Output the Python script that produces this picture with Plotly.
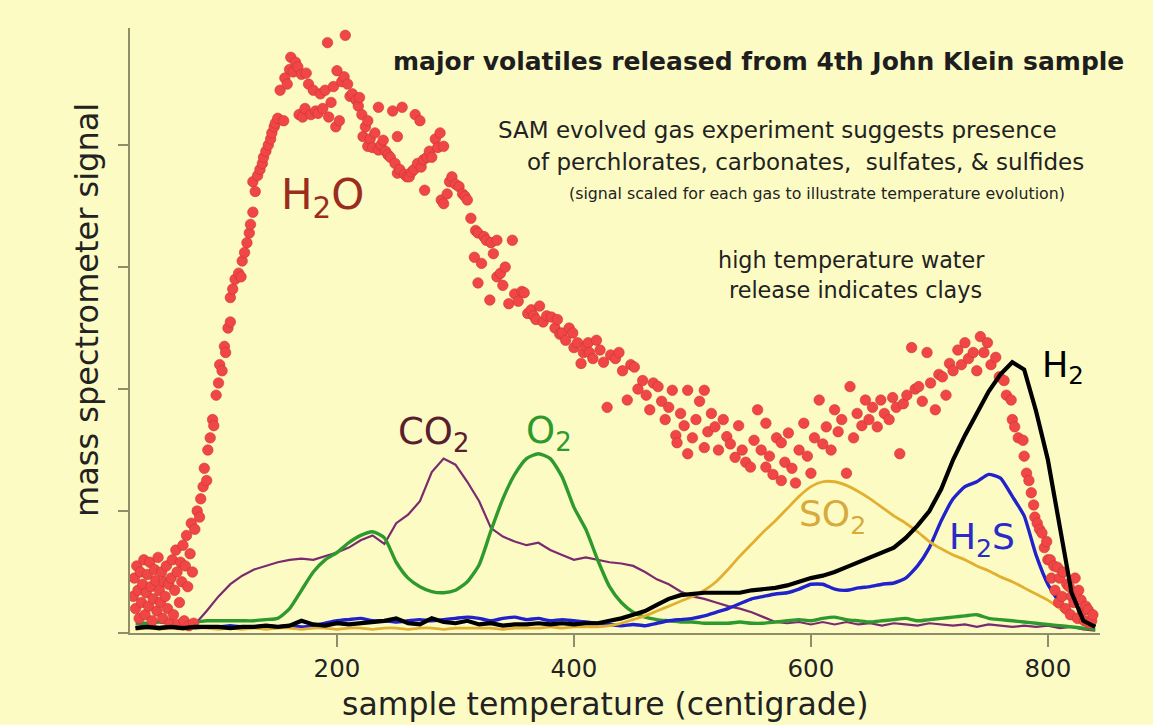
import plotly.graph_objects as go

# ---------------- data ----------------
# temperature grid for the line traces (degrees C)
temp = [30, 40, 50, 60, 70, 80, 90, 100, 110, 120,
        130, 140, 150, 160, 170, 180, 190, 200, 210, 220,
        230, 240, 250, 260, 270, 280, 290, 300, 310, 320,
        330, 340, 350, 360, 370, 380, 390, 400, 410, 420,
        430, 440, 450, 460, 470, 480, 490, 500, 510, 520,
        530, 540, 550, 560, 570, 580, 590, 600, 610, 620,
        630, 640, 650, 660, 670, 680, 690, 700, 710, 720,
        730, 740, 750, 760, 770, 780, 790, 800, 810, 820,
        830, 840]

co2 = [0.05, 0.06, 0.05, 0.06, 0.05, 0.07, 0.18, 0.30, 0.40, 0.47,
       0.52, 0.55, 0.58, 0.60, 0.61, 0.60, 0.63, 0.66, 0.70, 0.76,
       0.80, 0.73, 0.90, 0.97, 1.08, 1.32, 1.43, 1.38, 1.24, 1.08,
       0.86, 0.79, 0.75, 0.72, 0.74, 0.68, 0.64, 0.60, 0.62, 0.60,
       0.58, 0.57, 0.55, 0.50, 0.44, 0.40, 0.34, 0.30, 0.28, 0.25,
       0.22, 0.20, 0.17, 0.13, 0.09, 0.08, 0.09, 0.07, 0.09, 0.07,
       0.09, 0.07, 0.08, 0.06, 0.08, 0.07, 0.06, 0.08, 0.07, 0.06,
       0.07, 0.05, 0.07, 0.06, 0.05, 0.06, 0.05, 0.06, 0.04, 0.05,
       0.03, 0.02]

o2 = [0.08, 0.08, 0.09, 0.08, 0.09, 0.09, 0.10, 0.10, 0.10, 0.10,
      0.10, 0.11, 0.12, 0.20, 0.35, 0.50, 0.60, 0.66, 0.74, 0.80,
      0.83, 0.78, 0.58, 0.45, 0.38, 0.34, 0.33, 0.35, 0.42, 0.56,
      0.84, 1.10, 1.30, 1.43, 1.47, 1.43, 1.28, 1.03, 0.85, 0.60,
      0.38, 0.25, 0.17, 0.13, 0.11, 0.10, 0.09, 0.09, 0.08, 0.08,
      0.08, 0.09, 0.08, 0.08, 0.09, 0.10, 0.11, 0.10, 0.12, 0.13,
      0.11, 0.10, 0.09, 0.10, 0.11, 0.12, 0.10, 0.11, 0.12, 0.13,
      0.14, 0.15, 0.12, 0.11, 0.10, 0.09, 0.08, 0.07, 0.06, 0.05,
      0.04, 0.03]

h2 = [0.04, 0.05, 0.04, 0.05, 0.04, 0.05, 0.05, 0.05, 0.04, 0.05,
      0.05, 0.06, 0.05, 0.06, 0.10, 0.07, 0.06, 0.08, 0.07, 0.08,
      0.09, 0.10, 0.12, 0.08, 0.07, 0.12, 0.09, 0.08, 0.10, 0.07,
      0.08, 0.06, 0.07, 0.07, 0.08, 0.07, 0.08, 0.07, 0.08, 0.08,
      0.10, 0.12, 0.15, 0.18, 0.23, 0.28, 0.31, 0.32, 0.33, 0.33,
      0.33, 0.33, 0.35, 0.36, 0.37, 0.39, 0.42, 0.45, 0.47, 0.50,
      0.54, 0.58, 0.62, 0.66, 0.70, 0.78, 0.88, 1.00, 1.18, 1.42,
      1.62, 1.80, 1.98, 2.12, 2.22, 2.16, 1.82, 1.42, 0.88, 0.33,
      0.10, 0.05]

h2s = [0.04, 0.05, 0.04, 0.05, 0.05, 0.04, 0.05, 0.05, 0.06, 0.05,
       0.05, 0.06, 0.05, 0.06, 0.05, 0.06, 0.08, 0.10, 0.11, 0.12,
       0.10, 0.10, 0.09, 0.10, 0.11, 0.10, 0.11, 0.12, 0.13, 0.12,
       0.10, 0.12, 0.13, 0.11, 0.12, 0.10, 0.11, 0.10, 0.09, 0.08,
       0.07, 0.06, 0.07, 0.06, 0.08, 0.10, 0.11, 0.12, 0.14, 0.17,
       0.20, 0.24, 0.28, 0.30, 0.32, 0.33, 0.36, 0.40, 0.40, 0.36,
       0.35, 0.37, 0.38, 0.40, 0.41, 0.45, 0.55, 0.70, 0.92, 1.10,
       1.20, 1.24, 1.30, 1.27, 1.12, 0.96, 0.64, 0.40, 0.25, 0.16,
       0.10, 0.06]

so2 = [0.03, 0.04, 0.03, 0.04, 0.03, 0.04, 0.04, 0.03, 0.04, 0.03,
       0.04, 0.03, 0.04, 0.04, 0.03, 0.04, 0.04, 0.03, 0.04, 0.04,
       0.03, 0.04, 0.04, 0.03, 0.04, 0.04, 0.03, 0.04, 0.04, 0.04,
       0.04, 0.03, 0.04, 0.04, 0.04, 0.05, 0.04, 0.05, 0.05, 0.05,
       0.06, 0.08, 0.11, 0.14, 0.18, 0.22, 0.26, 0.30, 0.35, 0.42,
       0.52, 0.63, 0.73, 0.83, 0.92, 1.02, 1.12, 1.20, 1.24, 1.24,
       1.21, 1.16, 1.10, 1.03, 0.96, 0.90, 0.83, 0.75, 0.69, 0.64,
       0.60, 0.55, 0.51, 0.46, 0.42, 0.37, 0.32, 0.27, 0.20, 0.12,
       0.07, 0.05]

# water: individual samples (temperature, scaled signal)
h2o_samples = [
    (28, 0.30), (29, 0.45), (30, 0.20), (31, 0.55), (32, 0.35), (33, 0.12), (34, 0.50), (35, 0.25),
    (36, 0.40), (37, 0.60), (38, 0.15), (39, 0.33), (40, 0.48), (41, 0.22), (42, 0.58), (43, 0.38),
    (44, 0.10), (45, 0.28), (46, 0.52), (47, 0.43), (48, 0.18), (49, 0.62), (50, 0.35), (51, 0.25),
    (52, 0.50), (53, 0.12), (54, 0.42), (55, 0.30), (56, 0.55), (57, 0.20), (58, 0.40), (59, 0.08),
    (60, 0.45), (61, 0.60), (62, 0.15), (63, 0.35), (64, 0.68), (65, 0.50), (66, 0.07), (67, 0.25),
    (68, 0.58), (69, 0.42), (70, 0.72), (71, 0.10), (72, 0.55), (73, 0.80), (74, 0.38), (75, 0.06),
    (76, 0.65), (77, 0.90), (78, 0.50), (79, 0.08), (80, 0.85),
    (82, 1.00), (84, 0.95), (85, 1.10), (87, 1.20), (88, 1.35), (90, 1.25), (91, 1.50), (93, 1.60),
    (95, 1.75), (96, 1.70), (98, 1.95), (100, 2.05), (101, 2.20), (103, 2.15), (105, 2.35), (106, 2.30),
    (108, 2.50), (110, 2.55), (110, 2.75), (112, 2.82), (114, 2.90), (117, 2.95), (119, 2.92), (120, 3.05),
    (122, 3.12), (124, 3.20), (126, 3.28), (127, 3.35), (129, 3.45), (129, 3.70), (131, 3.62), (133, 3.75),
    (135, 3.80), (137, 3.85), (138, 3.90), (140, 3.95), (142, 4.00), (144, 4.05), (145, 4.10), (147, 4.15),
    (148, 4.18), (150, 4.22), (152, 4.45), (155, 4.20), (156, 4.55), (158, 4.50), (160, 4.62), (161, 4.72),
    (163, 4.60), (165, 4.68), (167, 4.64), (168, 4.25), (170, 4.58), (171, 4.23), (173, 4.30), (174, 4.59),
    (176, 4.50), (178, 4.25), (180, 4.45), (182, 4.28), (184, 4.26), (186, 4.42), (188, 4.30), (190, 4.45),
    (192, 4.84), (193, 4.23), (195, 4.35), (197, 4.48), (199, 4.15), (200, 4.61), (202, 4.20), (204, 4.52),
    (206, 4.56), (207, 4.90), (209, 4.50), (211, 4.40), (213, 4.42), (216, 4.37), (218, 4.32), (219, 4.39),
    (221, 4.25), (222, 4.07), (224, 4.15), (226, 4.20), (226, 3.99), (228, 4.05), (230, 3.98), (232, 4.10),
    (235, 4.31), (235, 3.96), (237, 4.00), (239, 4.04), (241, 3.95), (243, 3.92), (245, 3.90), (247, 4.28),
    (249, 3.85), (251, 4.07), (251, 3.77), (253, 3.80), (255, 4.31), (257, 3.76), (259, 3.74), (261, 3.74),
    (263, 3.78), (265, 3.80), (266, 4.25), (268, 3.85), (270, 4.20), (271, 3.82), (273, 3.88), (274, 3.63),
    (276, 3.90), (278, 3.95), (280, 3.90), (283, 4.05), (285, 3.98), (287, 4.10), (288, 3.55), (290, 3.99),
    (290, 3.52), (293, 3.60), (295, 3.70), (297, 3.74), (300, 3.68), (303, 3.66), (306, 3.60), (308, 3.58),
    (310, 3.55), (313, 3.40), (316, 3.08), (317, 3.30), (319, 3.28), (319, 2.87), (322, 3.03), (324, 3.25),
    (326, 3.22), (329, 2.73), (330, 3.20), (332, 3.11), (335, 3.22), (335, 2.92), (338, 2.95), (340, 2.85),
    (342, 3.00), (345, 2.70), (348, 3.22), (350, 2.78), (353, 2.72), (356, 2.80), (358, 2.79), (361, 2.62),
    (364, 2.65), (366, 2.60), (368, 2.57), (371, 2.68), (374, 2.55), (377, 2.60), (381, 2.59), (384, 2.50),
    (386, 2.57), (388, 2.45), (390, 2.46), (393, 2.40), (396, 2.50), (399, 2.46), (400, 2.34), (403, 2.38),
    (406, 2.21), (408, 2.30), (410, 2.35), (412, 2.38), (413, 2.30), (416, 2.25), (419, 2.40), (422, 2.32),
    (425, 2.22), (428, 1.85), (431, 2.28), (435, 2.25), (438, 2.30), (441, 2.15), (445, 1.91), (448, 2.20),
    (451, 2.18), (454, 2.00), (458, 2.07), (461, 1.95), (464, 1.83), (467, 2.05), (471, 2.02), (474, 1.90),
    (477, 1.75), (480, 1.85), (483, 1.99), (486, 1.62), (487, 1.56), (490, 1.80), (493, 1.70), (496, 1.99),
    (496, 1.47), (500, 1.60), (503, 1.75), (506, 1.90), (510, 1.99), (510, 1.52), (513, 1.65), (516, 1.80),
    (519, 1.69), (522, 1.50), (526, 1.75), (529, 1.61), (532, 1.55), (536, 1.44), (539, 1.70), (542, 1.50),
    (545, 1.40), (549, 1.36), (552, 1.58), (555, 1.83), (558, 1.50), (562, 1.36), (562, 1.72), (565, 1.45),
    (568, 1.30), (571, 1.60), (575, 1.25), (575, 1.56), (578, 1.40), (581, 1.64), (584, 1.35), (587, 1.23),
    (590, 1.50), (594, 1.72), (597, 1.45), (600, 1.31), (603, 1.60), (607, 1.91), (610, 1.55), (613, 1.69),
    (617, 1.50), (620, 1.83), (623, 1.65), (626, 1.75), (630, 1.31), (633, 2.02), (636, 1.60), (639, 1.80),
    (643, 1.70), (646, 1.91), (649, 1.75), (652, 1.85), (656, 1.69), (659, 1.91), (662, 1.80), (666, 1.75),
    (669, 1.93), (672, 1.85), (675, 1.47), (678, 1.88), (681, 1.95), (685, 2.34), (688, 2.00), (691, 2.02),
    (694, 1.90), (698, 2.30), (701, 2.05), (705, 1.83), (708, 2.12), (711, 2.10), (714, 1.95), (717, 2.21),
    (720, 2.15), (724, 2.32), (727, 2.20), (730, 2.38), (733, 2.25), (737, 2.30), (740, 2.15), (743, 2.43),
    (746, 2.30), (749, 2.38), (752, 2.20), (756, 2.26), (759, 2.10), (763, 2.07), (765, 1.95), (769, 1.91),
    (770, 1.75), (772, 1.69), (775, 1.60), (779, 1.58), (780, 1.45), (782, 1.31), (784, 1.25), (786, 1.15),
    (788, 1.05), (789, 0.95), (791, 0.90), (793, 0.85), (795, 0.82), (797, 0.70), (799, 0.75), (800, 0.60),
    (802, 0.60), (803, 0.45), (805, 0.55), (806, 0.35), (808, 0.54), (809, 0.25), (810, 0.45), (812, 0.30),
    (813, 0.50), (815, 0.20), (816, 0.40), (818, 0.38), (819, 0.15), (820, 0.30), (822, 0.25), (823, 0.45),
    (825, 0.12), (826, 0.35), (828, 0.27), (829, 0.18), (831, 0.10), (832, 0.22), (834, 0.19), (835, 0.08),
    (837, 0.10), (838, 0.15),
]
h2o_temp = [p[0] for p in h2o_samples]
h2o_signal = [p[1] for p in h2o_samples]

x_ticks = [200, 400, 600, 800]
y_ticks = [0, 1, 2, 3, 4]

# ---------------- styling ----------------
BG = "#fdfbc4"
AXIS = "#8e8e68"
FONT = "DejaVu Sans"
W, H = 1153, 725
PL, PR, PT, PB = 130, 1100, 28, 633


def px(xp):
    return (xp - PL) / (PR - PL)


def py(yp):
    return (PB - yp) / (PB - PT)


fig = go.Figure()

fig.add_trace(go.Scatter(x=temp, y=co2, mode="lines",
                         line=dict(color="#7a2a6e", width=2.2), name="CO2"))
fig.add_trace(go.Scatter(x=temp, y=o2, mode="lines",
                         line=dict(color="#2e9a2e", width=3.4, shape="spline", smoothing=0.6), name="O2"))
fig.add_trace(go.Scatter(x=temp, y=h2s, mode="lines",
                         line=dict(color="#2222cc", width=3.4, shape="spline", smoothing=0.5), name="H2S"))
fig.add_trace(go.Scatter(x=temp, y=so2, mode="lines",
                         line=dict(color="#e2b030", width=2.8, shape="spline", smoothing=0.6), name="SO2"))
fig.add_trace(go.Scatter(x=h2o_temp, y=h2o_signal, mode="markers",
                         marker=dict(size=10.5, color="rgb(240,70,70)",
                                     line=dict(width=0.6, color="rgb(205,50,50)")),
                         name="H2O"))
fig.add_trace(go.Scatter(x=temp, y=h2, mode="lines",
                         line=dict(color="#000000", width=4.2), name="H2"))

annotations = []


def add_text(text, xp, yp, size, color="#222222", xanchor="center", bold=False, angle=0):
    annotations.append(dict(
        text=f"<b>{text}</b>" if bold else text,
        x=px(xp), y=py(yp), xref="paper", yref="paper",
        xanchor=xanchor, yanchor="middle", showarrow=False, textangle=angle,
        font=dict(family=FONT, size=size, color=color)))


add_text("major volatiles released from 4th John Klein sample", 391, 62, 25, "#1e1e1e", "left", bold=True)
add_text("SAM evolved gas experiment suggests presence", 777, 130, 23)
add_text("of perchlorates, carbonates,  sulfates, &amp; sulfides", 805, 162, 23)
add_text("(signal scaled for each gas to illustrate temperature evolution)", 817, 193, 15.8)
add_text("high temperature water", 851, 260, 22.3)
add_text("release indicates clays", 855, 290, 22.3)

add_text("H<sub>2</sub>O", 279, 197, 42, "#9b2d20", "left")
add_text("CO<sub>2</sub>", 396, 434, 37, "#5a1e2e", "left")
add_text("O<sub>2</sub>", 524, 433, 37, "#2e9a2e", "left")
add_text("SO<sub>2</sub>", 797, 516, 36, "#d8aa3a", "left")
add_text("H<sub>2</sub>S", 947, 539, 36, "#2a2ac8", "left")
add_text("H<sub>2</sub>", 1040, 367, 35, "#000000", "left")

add_text("sample temperature (centigrade)", 605, 704, 31.5, "#222222")
add_text("mass spectrometer signal", 87, 310, 32, "#222222", angle=-90)

fig.update_layout(
    width=W, height=H,
    margin=dict(l=PL, r=W - PR, t=PT, b=H - PB),
    paper_bgcolor=BG, plot_bgcolor=BG,
    showlegend=False,
    font=dict(family=FONT, color="#222222"),
    annotations=annotations,
    xaxis=dict(range=[25.3, 844], tickvals=x_ticks, ticks="outside", ticklen=12,
               tickwidth=1.5, tickcolor=AXIS, showline=True, linecolor=AXIS, linewidth=2,
               showgrid=False, zeroline=False, ticklabelstandoff=1,
               tickfont=dict(family=FONT, size=24.5, color="#222222")),
    yaxis=dict(range=[0, 4.96], tickvals=y_ticks, ticks="outside", ticklen=10,
               tickwidth=1.5, tickcolor=AXIS, showline=True, linecolor=AXIS, linewidth=2,
               showgrid=False, zeroline=False, showticklabels=False),
)

# the page body has a default 8px margin; remove it so the figure fills the window exactly
fig.write_html("out.html", config={"displayModeBar": False},
               post_script="document.body.style.margin='0';document.body.style.background='" + BG + "';")
